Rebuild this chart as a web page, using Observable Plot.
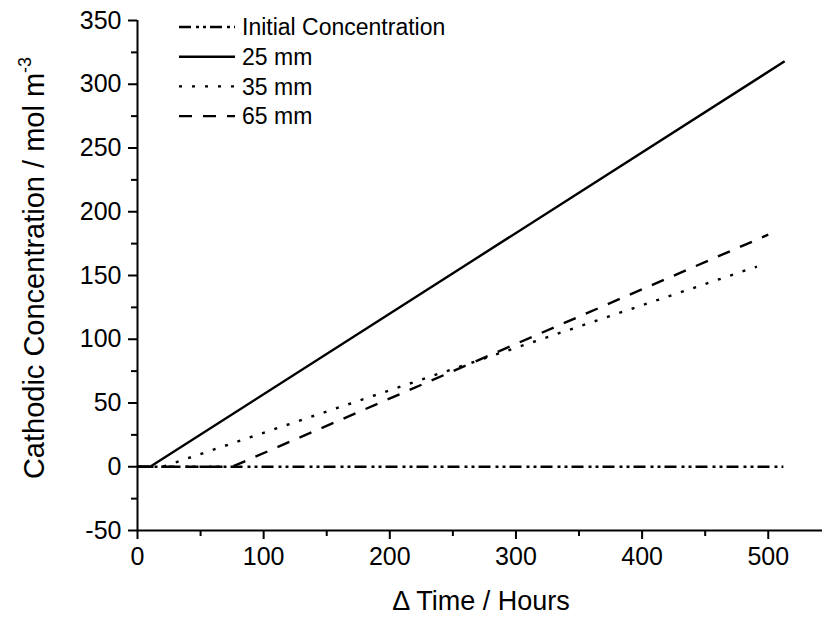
<!DOCTYPE html>
<html><head><meta charset="utf-8">
<script src="https://cdn.jsdelivr.net/npm/d3@7"></script>
<script src="https://cdn.jsdelivr.net/npm/@observablehq/plot@0.6"></script>
<style>body{margin:0;background:#fff} svg{display:block}</style>
</head><body><div id="chart"></div>
<script>
// ---- data ----
const seriesNames = ["Initial Concentration", "25 mm", "35 mm", "65 mm"];
const timeInitial = [0, 512];
const concInitial = [0, 0];
const time25 = [0, 10, 513];
const conc25 = [0, 0, 318];
const time35 = [0, 20, 491];
const conc35 = [0, 0, 157];
const time65 = [0, 75, 500];
const conc65 = [0, 0, 182];
const xMajorTicks = [0, 100, 200, 300, 400, 500];
const xMinorTicks = [50, 150, 250, 350, 450];
const yMajorTicks = [-50, 0, 50, 100, 150, 200, 250, 300, 350];
const yMinorTicks = [-25, 25, 75, 125, 175, 225, 275, 325];
const xTitle = "\u0394 Time / Hours";
const yTitle = "Cathodic Concentration / mol m";
const yTitleSup = "-3";

// ---- styles ----
const dashes = ["12,5,3,4,3,4", null, "3,10", "13,11"];
const times = [timeInitial, time25, time35, time65];
const concs = [concInitial, conc25, conc35, conc65];
const series = seriesNames.map((name, i) => ({
  name, dash: dashes[i],
  points: times[i].map((t, j) => ({t, c: concs[i][j]}))
}));

const font = "'Liberation Sans', Arial, Helvetica, sans-serif";

const lineMarks = series.map(s => Plot.line(s.points, {
  x: "t", y: "c", stroke: "black", strokeWidth: 2.4,
  strokeDasharray: s.dash, strokeLinecap: "butt", strokeLinejoin: "round"
}));

const plot = Plot.plot({
  width: 822, height: 618,
  marginLeft: 137, marginRight: 0, marginTop: 20, marginBottom: 88,
  style: {fontFamily: font, fontSize: "25px", color: "black", background: "white"},
  x: {domain: [0, 543], label: null},
  y: {domain: [-50, 350], label: null},
  marks: [
    ...lineMarks,
    Plot.ruleX([0], {stroke: "black", strokeWidth: 2}),
    Plot.ruleY([-50], {stroke: "black", strokeWidth: 2}),
    Plot.axisX({ticks: xMajorTicks, tickSize: 9, tickPadding: 8, strokeWidth: 2, fontSize: 25, label: null, tickFormat: d => String(d)}),
    Plot.axisX({ticks: xMinorTicks, tickSize: 6, strokeWidth: 2, text: null, label: null}),
    Plot.axisY({ticks: yMajorTicks, tickSize: 9, tickPadding: 7, strokeWidth: 2, fontSize: 25, label: null, tickFormat: d => String(d)}),
    Plot.axisY({ticks: yMinorTicks, tickSize: 6, strokeWidth: 2, text: null, label: null})
  ]
});

document.getElementById("chart").appendChild(plot);

const svg = d3.select(plot);
// axis titles
svg.append("text")
  .attr("x", 481).attr("y", 610)
  .attr("text-anchor", "middle")
  .attr("font-family", font).attr("font-size", 27).attr("fill", "black")
  .text(xTitle);

const yt = svg.append("text")
  .attr("transform", "translate(44,268) rotate(-90)")
  .attr("text-anchor", "middle")
  .attr("font-family", font).attr("font-size", 29).attr("fill", "black");
yt.append("tspan").text(yTitle);
yt.append("tspan").attr("font-size", 18).attr("dy", -13).text(yTitleSup);

// legend
const lg = svg.append("g");
series.forEach((s, i) => {
  const cy = 27 + i * 29.7;
  lg.append("line")
    .attr("x1", 179).attr("x2", 235).attr("y1", cy).attr("y2", cy)
    .attr("stroke", "black").attr("stroke-width", 2.4)
    .attr("stroke-dasharray", s.dash);
  lg.append("text")
    .attr("x", 242).attr("y", cy).attr("dy", "0.36em")
    .attr("text-anchor", "start")
    .attr("font-family", font).attr("font-size", 23).attr("fill", "black")
    .text(s.name);
});
</script>
</body></html>
